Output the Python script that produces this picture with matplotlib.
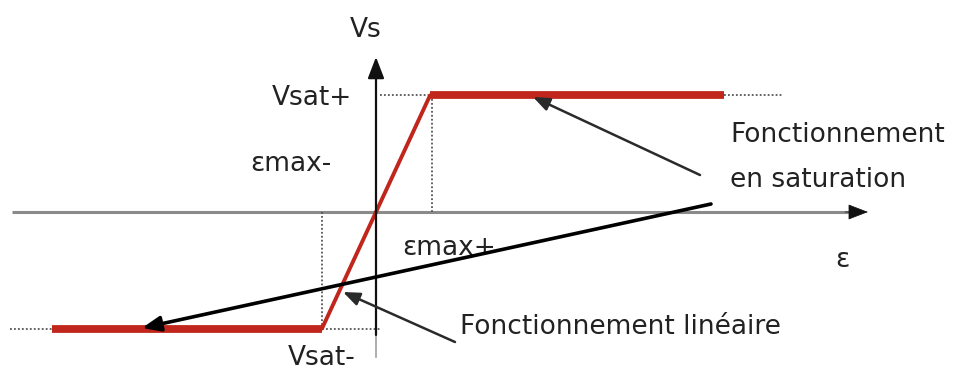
import matplotlib
matplotlib.use("Agg")
import matplotlib.pyplot as plt

# Transfer characteristic of an op-amp (normalised units)
eps_points = [-6.0, -1.0, 1.0, 6.45]     # ε breakpoints (εmax- = -1, εmax+ = +1)
vs_points = [-1.0, -1.0, 1.0, 1.0]      # Vs values (Vsat- = -1, Vsat+ = +1)
eps_label_pos = ["εmax-", "εmax+"]
vs_labels = ["Vsat+", "Vsat-"]

W, H = 962, 372
fig = plt.figure(figsize=(W / 100, H / 100), dpi=100)
ax = fig.add_axes([0, 0, 1, 1])
ox, oy, ux, uy = 376, 212, 54, 116.5   # pixel origin and units
ax.set_xlim(-ox / ux, (W - ox) / ux)
ax.set_ylim(-(H - oy) / uy, oy / uy)
ax.axis("off")

def P(px, py):
    return ((px - ox) / ux, (oy - py) / uy)

red = "#C0261C"
font = "DejaVu Sans"
fs = 19

# axes
ax.annotate("", xy=P(868, 212), xytext=P(845, 212),
            arrowprops=dict(arrowstyle="-|>,head_length=1.3,head_width=0.5",
                            color="#111111", lw=0.5, shrinkA=0, shrinkB=0))
ax.plot([P(12, 212)[0], P(850, 212)[0]], [0, 0], color="#8a8a8a", lw=2.2,
        solid_capstyle="butt")
ax.annotate("", xy=P(376, 57), xytext=P(376, 335),
            arrowprops=dict(arrowstyle="-|>,head_length=1.3,head_width=0.5",
                            color="#111111", lw=1.6, shrinkA=0, shrinkB=0))
ax.plot([0, 0], [P(0, 335)[1], P(0, 357)[1]], color="#a0a0a0", lw=1.2)

# dotted guide lines
dot = dict(color="#555555", lw=1.3, ls=(0, (1, 1.2)))
x0, x1, x2, x3 = eps_points
lo, hi = vs_points[0], vs_points[-1]
ax.plot([P(10, 0)[0], x0], [lo, lo], **dot)
ax.plot([x1, P(380, 0)[0]], [lo, lo], **dot)
ax.plot([x1, x1], [0, lo], **dot)
ax.plot([x2 + 0.04, x2 + 0.04], [0, hi], **dot)
ax.plot([P(380, 0)[0], x2], [hi, hi], **dot)
ax.plot([x3, P(782, 0)[0]], [hi, hi], **dot)

# characteristic
ax.plot(eps_points[:2], vs_points[:2], color=red, lw=5.6, solid_capstyle="butt")
ax.plot(eps_points[2:], vs_points[2:], color=red, lw=5.6, solid_capstyle="butt")
ax.plot(eps_points[1:3], vs_points[1:3], color=red, lw=2.8, solid_capstyle="round")

# labels
tc = "#222222"
ax.text(*P(366, 30), "Vs", fontsize=fs, family=font, color=tc, ha="center", va="center")
ax.text(*P(352, 98), vs_labels[0], fontsize=fs, family=font, color=tc, ha="right", va="center")
ax.text(*P(332, 164), eps_label_pos[0], fontsize=fs, family=font, color=tc, ha="right", va="center")
ax.text(*P(402, 248), eps_label_pos[1], fontsize=fs, family=font, color=tc, ha="left", va="center")
ax.text(*P(842, 260), "ε", fontsize=fs, family=font, color=tc, ha="center", va="center")
ax.text(*P(322, 358), vs_labels[1], fontsize=fs, family=font, color=tc, ha="center", va="center")
ax.text(*P(730, 135), "Fonctionnement", fontsize=fs, family=font, color=tc, ha="left", va="center")
ax.text(*P(730, 180), "en saturation", fontsize=fs, family=font, color=tc, ha="left", va="center")
ax.text(*P(460, 327), "Fonctionnement linéaire", fontsize=fs, family=font, color=tc,
        ha="left", va="center")

# pointer arrows
ax.annotate("", xy=P(142, 328), xytext=P(711, 204),
            arrowprops=dict(arrowstyle="-|>,head_length=1.1,head_width=0.45",
                            color="black", lw=2.6, shrinkA=0, shrinkB=0))
ax.annotate("", xy=P(533, 97), xytext=P(700, 175),
            arrowprops=dict(arrowstyle="-|>,head_length=1.0,head_width=0.4",
                            color="#2a2a2a", lw=1.8, shrinkA=0, shrinkB=0))
ax.annotate("", xy=P(343, 292), xytext=P(455, 342),
            arrowprops=dict(arrowstyle="-|>,head_length=1.0,head_width=0.4",
                            color="#2a2a2a", lw=1.8, shrinkA=0, shrinkB=0))

fig.savefig("out.png", dpi=100, facecolor="white")
